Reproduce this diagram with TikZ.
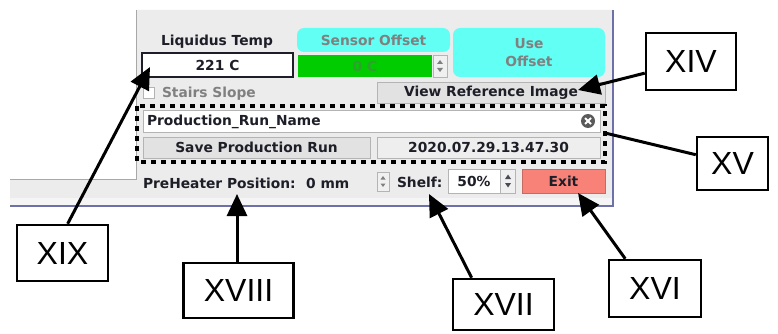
\documentclass[tikz,border=0pt]{standalone}
\usepackage{fontspec}
\setmainfont{DejaVu Sans}
\newfontfamily\callfont{Liberation Sans}
\usetikzlibrary{arrows.meta,calc}
\definecolor{panel}{HTML}{ECECEC}
\definecolor{panelline}{HTML}{A8A8A8}
\definecolor{panelblue}{HTML}{6E70A8}
\definecolor{darktext}{HTML}{1E1E28}
\definecolor{greytext}{HTML}{808080}
\definecolor{cyanbox}{HTML}{62FFF4}
\definecolor{greenbox}{HTML}{00CC00}
\definecolor{greentext}{HTML}{30A030}
\definecolor{btnfill}{HTML}{E2E2E2}
\definecolor{btnline}{HTML}{B4B4B4}
\definecolor{exitfill}{HTML}{F88278}
\definecolor{exitline}{HTML}{C86A64}
\definecolor{iconfill}{HTML}{5A5A5A}
\begin{document}
\begin{tikzpicture}[x=1pt,y=-1pt,
  gui/.style={font=\fontsize{13.8}{18}\selectfont\bfseries, text=darktext, inner sep=0pt, outer sep=0pt},
  field/.style={gui, draw=btnline, line width=0.8pt, fill=white},
  btn/.style={gui, draw=btnline, line width=0.8pt, fill=btnfill},
  cyanbtn/.style={gui, fill=cyanbox, rounded corners=7pt, text=greytext},
  spinbox/.style={draw=btnline, line width=0.6pt, fill=white!94!black, inner sep=0pt, outer sep=0pt},
  spintri/.style={fill=greytext},
  callout/.style={draw=black, line width=2.5pt, fill=white, font=\callfont\fontsize{32}{36}\selectfont, inner sep=0pt},
  callarrow/.style={draw=black, line width=3pt, -{Triangle[length=22pt,width=20pt]}},
  callline/.style={draw=black, line width=3pt},
  dotbox/.style={draw=black, line width=4.5pt, dash pattern=on 5pt off 5pt}
]
\useasboundingbox[fill=white] (0,0) rectangle (778,334);

% panel background
\fill[panel] (136,10) -- (613,10) -- (613,206) -- (10,206) -- (10,179) -- (136,179) -- cycle;
\fill[white!96!black] (10,198) rectangle (613,205);
\draw[panelline, line width=0.8pt] (10,179) -- (136,179) -- (136,10);
\draw[panelblue, line width=1.2pt] (613,10) -- (613,206) -- (10,206);

% row 1
\node[gui] (liqlabel) at (217,42) {Liquidus Temp};
\node[field, draw=darktext, line width=1.2pt, minimum width=151pt, minimum height=24pt] (liqfield) at (217.5,65) {221 C};
\node[cyanbtn, minimum width=153pt, minimum height=24pt] (sensoroff) at (373.5,40) {Sensor Offset};
\node[gui, fill=greenbox, text=greentext, minimum width=134pt, minimum height=22pt] (greenfield) at (365,66) {0 C};
\node[spinbox, minimum width=14pt, minimum height=22pt] (spinA) at (440,66) {};
\fill[spintri] ($(spinA.center)+(-3,-2)$) -- ($(spinA.center)+(3,-2)$) -- ($(spinA.center)+(0,-6)$) -- cycle;
\fill[spintri] ($(spinA.center)+(-3,2)$) -- ($(spinA.center)+(3,2)$) -- ($(spinA.center)+(0,6)$) -- cycle;
\node[cyanbtn, align=center, minimum width=152pt, minimum height=49pt] (useoff) at (529,52.5) {Use\\Offset};

% row 2
\node[draw=btnline, fill=white, line width=0.8pt, minimum size=11pt, inner sep=0pt] (checkbox) at (148.5,92.5) {};
\node[gui, text=greytext, anchor=west] (stairs) at (162,94) {Stairs Slope};
\node[btn, minimum width=228pt, minimum height=21pt] (viewbtn) at (491,92.5) {View Reference Image};

% dotted group
\node[field, minimum width=457pt, minimum height=22pt] (namefield) at (371.5,121) {};
\node[gui, anchor=west] (nametext) at (147,122) {Production\_Run\_Name};
\node[circle, fill=iconfill, minimum size=14pt, inner sep=0pt] (clearicon) at (588,121) {};
\draw[white, line width=1.8pt] ($(clearicon.center)+(-3,-3)$) -- ($(clearicon.center)+(3,3)$);
\draw[white, line width=1.8pt] ($(clearicon.center)+(-3,3)$) -- ($(clearicon.center)+(3,-3)$);
\node[btn, minimum width=227pt, minimum height=21pt] (savebtn) at (256.5,147.5) {Save Production Run};
\node[btn, fill=btnfill!60!white, minimum width=223pt, minimum height=21pt] (datebox) at (488.5,147.5) {2020.07.29.13.47.30};
\draw[dotbox] (137,106) rectangle (605,162);
\coordinate (dotright) at (605,133);

% bottom row
\node[gui, anchor=west] (preheater) at (143,183) {PreHeater Position:\hspace{4pt} 0 mm};
\node[spinbox, minimum width=12pt, minimum height=19pt] (spinB) at (383,181.5) {};
\fill[spintri] ($(spinB.center)+(-2.5,-2)$) -- ($(spinB.center)+(2.5,-2)$) -- ($(spinB.center)+(0,-5.5)$) -- cycle;
\fill[spintri] ($(spinB.center)+(-2.5,2)$) -- ($(spinB.center)+(2.5,2)$) -- ($(spinB.center)+(0,5.5)$) -- cycle;
\node[gui, anchor=west] (shelf) at (397,182) {Shelf:};
\node[field, minimum width=52pt, minimum height=24pt] (pctfield) at (474,181) {50\%};
\node[spinbox, minimum width=15pt, minimum height=24pt] (spinC) at (508,181) {};
\fill[darktext!80] ($(spinC.center)+(-3,-2)$) -- ($(spinC.center)+(3,-2)$) -- ($(spinC.center)+(0,-6.5)$) -- cycle;
\fill[darktext!80] ($(spinC.center)+(-3,2)$) -- ($(spinC.center)+(3,2)$) -- ($(spinC.center)+(0,6.5)$) -- cycle;
\node[gui, fill=exitfill, draw=exitline, line width=0.8pt, minimum width=83pt, minimum height=24pt] (exitbtn) at (563.5,181) {Exit};

% callout targets
\coordinate (tipXIV) at (578,90);
\coordinate (tipXVI) at (578,193);
\coordinate (tipXVII) at (429,194);
\coordinate (tipXVIII) at (237,194);
\coordinate (tipXIX) at (150,67);

% callouts
\node[callout, minimum width=90pt, minimum height=57pt] (cXIV) at (691,61.5) {XIV};
\node[callout, minimum width=71pt, minimum height=53pt] (cXV) at (732.5,163.5) {XV};
\node[callout, minimum width=92pt, minimum height=57pt] (cXVI) at (655,288.5) {XVI};
\node[callout, minimum width=101pt, minimum height=51pt] (cXVII) at (503.5,304.5) {XVII};
\node[callout, minimum width=110pt, minimum height=55pt] (cXVIII) at (238.5,290.5) {XVIII};
\node[callout, minimum width=91pt, minimum height=56pt] (cXIX) at (62.5,253) {XIX};

\draw[callarrow] (cXIV) -- (tipXIV);
\draw[callline] (dotright) -- (cXV);
\draw[callarrow] (cXVI.135) -- (tipXVI);
\draw[callarrow] (cXVII.140) -- (tipXVII);
\draw[callarrow] (cXVIII.north -| tipXVIII) -- (tipXVIII);
\draw[callarrow] (cXIX.80) -- (tipXIX);
\end{tikzpicture}
\end{document}
